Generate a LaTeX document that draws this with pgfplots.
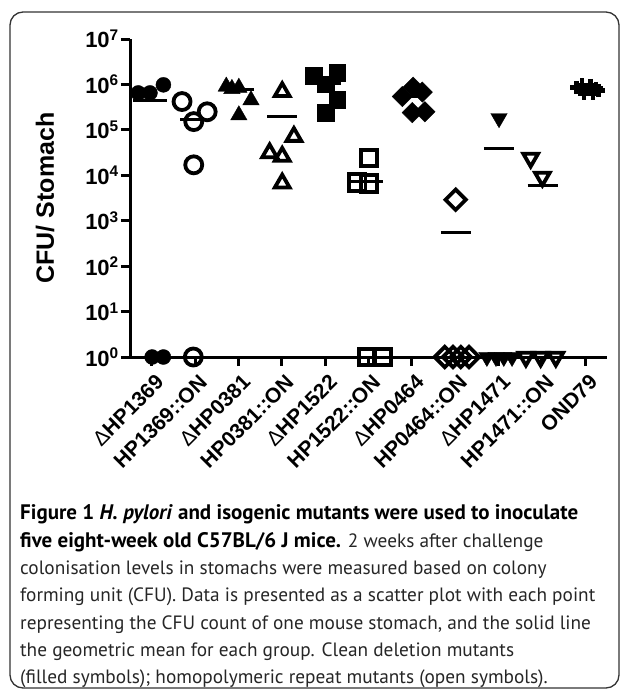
\documentclass[border=0pt]{standalone}
\usepackage{fontspec}
\setmainfont{Liberation Sans}
\newfontfamily\capfont{PT Sans}
\usepackage{pgfplots}
\pgfplotsset{compat=1.18}

\pgfplotsset{
  filled/.style={only marks, black},
  open/.style={only marks, black},
  meanline/.style={black, line width=3pt, mark=none},
}

\begin{document}
\begin{tikzpicture}
\useasboundingbox (0,0) rectangle (629pt,-690pt);
\draw[line width=1.3pt, black!80, rounded corners=13pt] (10pt,-12pt) rectangle (619pt,-688pt);

\begin{axis}[
  at={(130pt,-357pt)}, anchor=south west,
  scale only axis, width=477pt, height=318pt,
  xmin=0.5, xmax=11.5,
  ymode=log, log basis y=10, ymin=1, ymax=1e7,
  axis x line*=bottom, axis y line*=left,
  axis line style={line width=3pt},
  tick style={line width=3pt, black},
  major tick length=9pt, tick align=outside,
  yminorticks=false,
  xtick={1,2,3,4,5,6,7,8,9,10,11},
  xticklabels={{\mdseries Δ}HP1369,HP1369::ON,{\mdseries Δ}HP0381,HP0381::ON,{\mdseries Δ}HP1522,HP1522::ON,{\mdseries Δ}HP0464,HP0464::ON,{\mdseries Δ}HP1471,HP1471::ON,OND79},
  x tick label style={rotate=45, anchor=north east, font=\fontsize{21}{21}\selectfont\bfseries, inner sep=1pt, yshift=-6pt, xshift=-2pt},
  ytick={1,10,100,1000,10000,100000,1000000,10000000},
  yticklabels={10\textsuperscript{0},10\textsuperscript{1},10\textsuperscript{2},10\textsuperscript{3},10\textsuperscript{4},10\textsuperscript{5},10\textsuperscript{6},10\textsuperscript{7}},
  y tick label style={font=\fontsize{22}{22}\selectfont\bfseries, inner sep=2pt},
  clip=false,
]
% group 1: dHP1369 (filled circles)
\addplot[filled, mark=*, mark size=7.5, mark options={solid, fill=black}] coordinates {(0.69,6.5e5)(0.96,6.5e5)(1.27,9.8e5)(1.01,1)(1.27,1)};
\addplot[meanline] coordinates {(0.58,4.5e5)(1.36,4.5e5)};
% group 2: HP1369::ON (open circles)
\addplot[open, mark=o, mark size=8.5, mark options={solid, line width=3.8pt}] coordinates {(1.70,4.2e5)(2.28,2.5e5)(1.97,1.52e5)(1.97,1.7e4)(1.96,1)};
\addplot[meanline] coordinates {(1.66,1.66e5)(2.26,1.66e5)};
% group 3: dHP0381 (filled triangles)
\addplot[filled, mark=triangle*, mark size=9.5, mark options={solid, fill=black}] coordinates {(2.72,9e5)(3.01,8.5e5)(3.29,4.5e5)(3.01,2.1e5)(2.85,8e5)};
\addplot[meanline] coordinates {(2.81,7.6e5)(3.35,7.6e5)};
% group 4: HP0381::ON (open triangles)
\addplot[open, mark=triangle, mark size=8.5, mark options={solid, line width=3.8pt}] coordinates {(4.01,6.9e5)(4.28,7.1e4)(3.72,3.1e4)(4.01,2.6e4)(4.01,6.7e3)};
\addplot[meanline] coordinates {(3.66,1.96e5)(4.36,1.96e5)};
% group 5: dHP1522 (filled squares)
\addplot[filled, mark=square*, mark size=8.3, mark options={solid, fill=black}] coordinates {(4.74,1.55e6)(5.28,1.8e6)(5.01,1.02e6)(5.28,4.6e5)(5.01,2.4e5)};
\addplot[meanline] coordinates {(4.80,1.07e6)(5.36,1.07e6)};
% group 6: HP1522::ON (open squares)
\addplot[open, mark=square, mark size=8.3, mark options={solid, line width=3.8pt}] coordinates {(6.01,2.4e4)(5.74,6.9e3)(6.01,6.6e3)(5.97,1)(6.32,1)};
\addplot[meanline] coordinates {(5.56,7.3e3)(6.33,7.3e3)};
% group 7: dHP0464 (filled diamonds)
\addplot[filled, mark=square*, mark size=7.2, mark options={solid, fill=black, rotate=45}] coordinates {(6.78,5.4e5)(7.03,8.7e5)(7.24,6.8e5)(7.01,2.4e5)(7.30,2.5e5)};
\addplot[meanline] coordinates {(6.81,5.4e5)(7.36,5.4e5)};
% group 8: HP0464::ON (open diamonds)
\addplot[open, mark=square, mark size=7.2, mark options={solid, line width=3.8pt, rotate=45}] coordinates {(8.01,2.9e3)(7.76,1)(7.95,1)(8.13,1)(8.32,1)};
\addplot[meanline] coordinates {(7.67,5.6e2)(8.36,5.6e2)};
% group 9: dHP1471 (filled inverted triangles)
\addplot[filled, mark=triangle*, mark size=9.5, mark options={solid, fill=black, rotate=180}] coordinates {(9.01,1.8e5)(8.73,1)(8.94,1)(9.12,1)(9.31,1)};
\addplot[meanline] coordinates {(8.66,3.8e4)(9.35,3.8e4)};
% group 10: HP1471::ON (open inverted triangles)
\addplot[open, mark=triangle, mark size=8.5, mark options={solid, line width=3.8pt, rotate=180}] coordinates {(9.74,2.4e4)(10.01,9.2e3)(9.63,1)(9.97,1)(10.32,1)};
\addplot[meanline] coordinates {(9.67,6.1e3)(10.37,6.1e3)};
% group 11: OND79
\addplot[only marks, black, mark=+, mark size=6.5, mark options={solid, line width=4.5pt}] coordinates {(10.80,8.5e5)(10.92,9.8e5)(11.01,7.6e5)(11.12,9.5e5)(11.25,8.2e5)(10.97,6.2e5)(11.18,6.3e5)(11.30,7.4e5)};
\addplot[meanline] coordinates {(10.67,8e5)(11.36,8e5)};
\end{axis}

\node[rotate=90, font=\fontsize{25}{25}\selectfont\bfseries] at (45pt,-198pt) {CFU/ Stomach};

\begin{scope}[every node/.style={anchor=base west, inner sep=0pt, font=\capfont\fontsize{19.3}{24}\selectfont, text=black!85}]
\node at (20pt,-519pt) {\fontsize{21}{25}\selectfont\color{black}\textbf{Figure 1 \textit{H. pylori} and isogenic mutants were used to inoculate}};
\node at (20pt,-547pt) {{\fontsize{21}{25}\selectfont\color{black}\textbf{five eight-week old C57BL/6 J mice.}} 2 weeks after challenge};
\node at (20pt,-574pt) {colonisation levels in stomachs were measured based on colony};
\node at (20pt,-601pt) {forming unit (CFU). Data is presented as a scatter plot with each point};
\node at (20pt,-629pt) {representing the CFU count of one mouse stomach, and the solid line};
\node at (20pt,-656pt) {the geometric mean for each group. Clean deletion mutants};
\node at (20pt,-683pt) {(filled symbols); homopolymeric repeat mutants (open symbols).};
\end{scope}
\end{tikzpicture}
\end{document}
